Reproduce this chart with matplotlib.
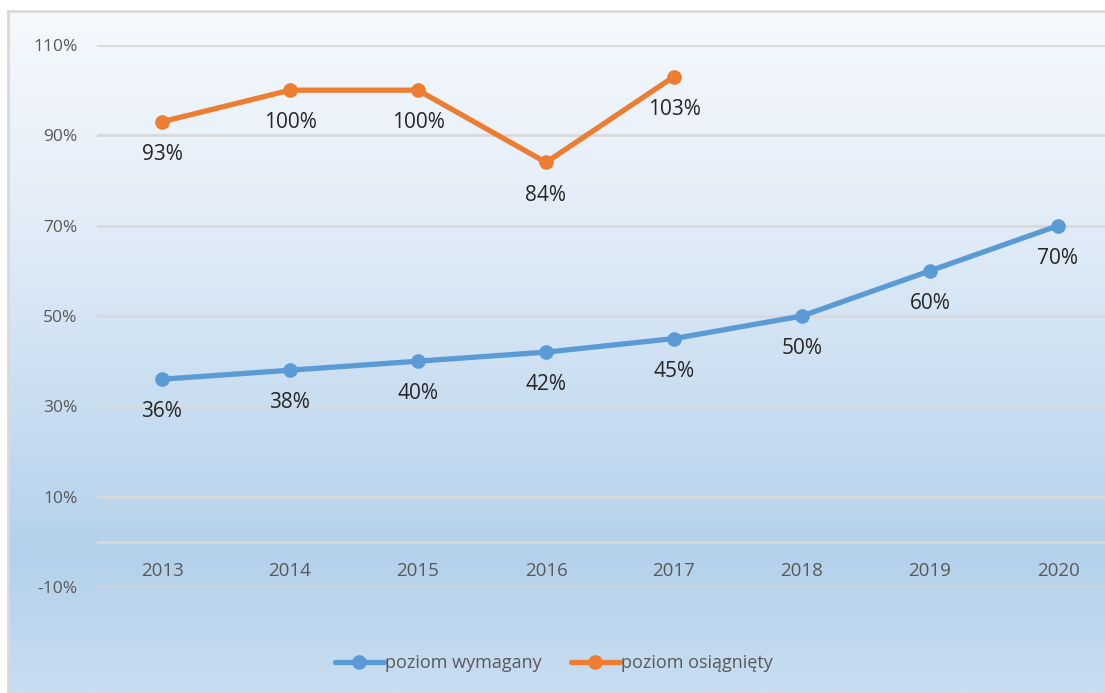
import matplotlib
matplotlib.use("Agg")
import matplotlib.pyplot as plt
import numpy as np
from matplotlib.colors import LinearSegmentedColormap

years = ["2013", "2014", "2015", "2016", "2017", "2018", "2019", "2020"]
required = [36, 38, 40, 42, 45, 50, 60, 70]
achieved = [93, 100, 100, 84, 103]
yticks = [-10, 10, 30, 50, 70, 90, 110]

BLUE = "#5b9bd5"
ORANGE = "#ed7d31"
GRID = "#d9d9d9"

plt.rcParams['font.family'] = ['Open Sans', 'DejaVu Sans']

W, H = 1105, 693
fig = plt.figure(figsize=(W / 100, H / 100), dpi=100)
fig.patch.set_facecolor("white")

# background gradient for chart area
bg = fig.add_axes([8 / W, 0, 1 - 8 / W, 1 - 11 / H])
cmap = LinearSegmentedColormap.from_list(
    "g", [(0.0, "#f6f9fd"), (0.3, "#e3edf8"), (0.8, "#b4d1eb"), (1.0, "#c9ddf1")])
grad = np.linspace(0, 1, 256).reshape(-1, 1)
bg.imshow(grad, aspect="auto", cmap=cmap, extent=[0, 1, 0, 1], origin="upper")
bg.set_xlim(0, 1); bg.set_ylim(0, 1)
bg.set_xticks([]); bg.set_yticks([])
for s in ["right", "bottom"]:
    bg.spines[s].set_visible(False)
for s in ["left", "top"]:
    bg.spines[s].set_color("#d9d9d9")
    bg.spines[s].set_linewidth(2)

left, right = 97 / W, 1.0
bottom, top = (H - 587) / H, (H - 45) / H
ax = fig.add_axes([left, bottom, right - left, top - bottom])
ax.patch.set_alpha(0)
x = np.arange(len(years))
ax.set_xlim(-65 / 128, 7 + 47 / 128)
ax.set_ylim(-10, 110)
ax.set_yticks(yticks)
ax.set_yticklabels([f"{v}%" for v in yticks], fontsize=12.5, color="#595959")
ax.tick_params(axis="y", length=0, pad=14)
ax.set_xticks([])
for s in ax.spines.values():
    s.set_visible(False)
for v in yticks:
    ax.axhline(v, color=GRID, lw=2, zorder=1)
ax.axhline(0, color=GRID, lw=2, zorder=1)
for xi, yr in zip(x, years):
    ax.text(xi, -6.5, yr, ha="center", va="center", fontsize=13.5, color="#595959")

l1, = ax.plot(x, required, color=BLUE, lw=3.8, marker="o", ms=9.5,
              solid_capstyle="round", label="poziom wymagany", zorder=3)
l2, = ax.plot(x[:len(achieved)], achieved, color=ORANGE, lw=3.8, marker="o", ms=9.5,
              solid_capstyle="round", label="poziom osiągnięty", zorder=3)

for xi, v in zip(x, required):
    ax.annotate(f"{v}%", (xi, v), xytext=(0, -23.5), textcoords="offset points",
                ha="center", va="center", fontsize=15, color="#262626")
for xi, v in zip(x, achieved):
    ax.annotate(f"{v}%", (xi, v), xytext=(0, -23.5), textcoords="offset points",
                ha="center", va="center", fontsize=15, color="#262626")

fig.legend(handles=[l1, l2], loc="center", bbox_to_anchor=(554 / W, 1 - 663 / H),
           ncol=2, frameon=False, fontsize=13, labelcolor="#595959",
           handlelength=2.7, handletextpad=0.1, columnspacing=1.6)

fig.savefig("out.png", dpi=100)
